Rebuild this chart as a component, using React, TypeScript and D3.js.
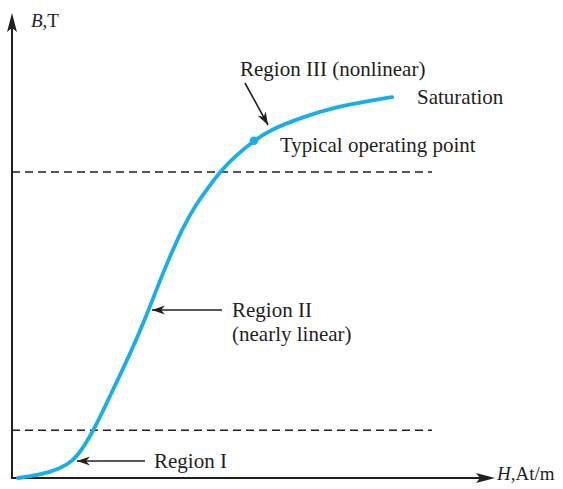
import React from "react";
import * as d3 from "d3";

// Magnetization (B-H) curve values (arbitrary units 0-100)
const H_VALUES = [1.25, 5.8, 10.0, 12.7, 14.8, 17.3, 21.0, 24.6, 27.7, 31.5, 35.6, 38.5, 41.3, 43.3, 46.5, 50.4, 53.8, 60.6, 67.7, 74.6, 79.2];
const B_VALUES = [0, 0.65, 2.0, 3.7, 6.5, 10.9, 19.1, 27.0, 34.4, 44.8, 54.6, 59.8, 63.7, 66.5, 70.0, 73.3, 75.7, 78.5, 80.7, 82.0, 82.8];

// Typical operating point
const OP_H = 50.4;
const OP_B = 73.3;

// Region boundary levels (dashed lines)
const BOUNDARY_B = [10.4, 66.5];
const BOUNDARY_END_H = 87.5;

const W = 563;
const HGT = 489;

const FONT = "'Liberation Serif', 'Times New Roman', serif";
const TEXT = "#231f20";
const BLUE = "#19aeea";

export default function App() {
  const x = d3.scaleLinear().domain([0, 100]).range([12, 492]);
  const y = d3.scaleLinear().domain([0, 100]).range([478, 18]);

  const pts: [number, number][] = H_VALUES.map((h, i) => [h, B_VALUES[i]]);
  const line = d3
    .line<[number, number]>()
    .x((d) => x(d[0]))
    .y((d) => y(d[1]))
    .curve(d3.curveBasis);

  const x0 = x(0);
  const y0 = y(0);

  const ann = (x1: number, y1: number, x2: number, y2: number, key: string) => (
    <line key={key} x1={x1} y1={y1} x2={x2} y2={y2} stroke={TEXT} strokeWidth={1.6} markerEnd="url(#ah)" />
  );

  return (
    <svg
      width={W}
      height={HGT}
      viewBox={`0 0 ${W} ${HGT}`}
      style={{ position: "absolute", left: 0, top: 0, background: "#fff" }}
    >
      <defs>
        <marker id="ah" markerUnits="userSpaceOnUse" markerWidth={14} markerHeight={10} refX={13} refY={5} orient="auto">
          <path d="M0,0.5 L13,5 L0,9.5 L4,5 Z" fill={TEXT} />
        </marker>
      </defs>

      {/* dashed region boundaries */}
      {BOUNDARY_B.map((b, i) => (
        <line
          key={i}
          x1={x0}
          x2={x(BOUNDARY_END_H)}
          y1={y(b)}
          y2={y(b)}
          stroke={TEXT}
          strokeWidth={1.5}
          strokeDasharray="8,5"
        />
      ))}

      {/* axes */}
      <line x1={x0} y1={y0} x2={x0} y2={28} stroke={TEXT} strokeWidth={2} />
      <path d={`M${x0},13 L${x0 + 5},32 L${x0},28 L${x0 - 5},32 Z`} fill={TEXT} />
      <line x1={x0 - 1} y1={y0} x2={480} y2={y0} stroke={TEXT} strokeWidth={2} />
      <path d={`M495,${y0} L476,${y0 - 5} L480,${y0} L476,${y0 + 5} Z`} fill={TEXT} />

      <text x={31} y={27} fontFamily={FONT} fontSize={19} fill={TEXT}>
        <tspan fontStyle="italic">B</tspan>,T
      </text>
      <text x={497} y={480} fontFamily={FONT} fontSize={19} fill={TEXT}>
        <tspan fontStyle="italic">H</tspan>,At/m
      </text>

      {/* curve */}
      <path d={line(pts) || ""} fill="none" stroke={BLUE} strokeWidth={3.8} strokeLinecap="round" />
      <circle cx={x(OP_H)} cy={y(OP_B)} r={4.3} fill={BLUE} />

      {/* annotations */}
      {ann(145, 461, 77, 461, "a1")}
      {ann(222, 310, 152, 310, "a2")}
      {ann(245, 83, 268, 125, "a3")}

      <g fontFamily={FONT} fontSize={21} fill={TEXT}>
        <text x={240} y={76}>Region III (nonlinear)</text>
        <text x={417} y={104}>Saturation</text>
        <text x={280} y={152}>Typical operating point</text>
        <text x={232} y={317}>Region II</text>
        <text x={232} y={341}>(nearly linear)</text>
        <text x={154} y={468}>Region I</text>
      </g>
    </svg>
  );
}
